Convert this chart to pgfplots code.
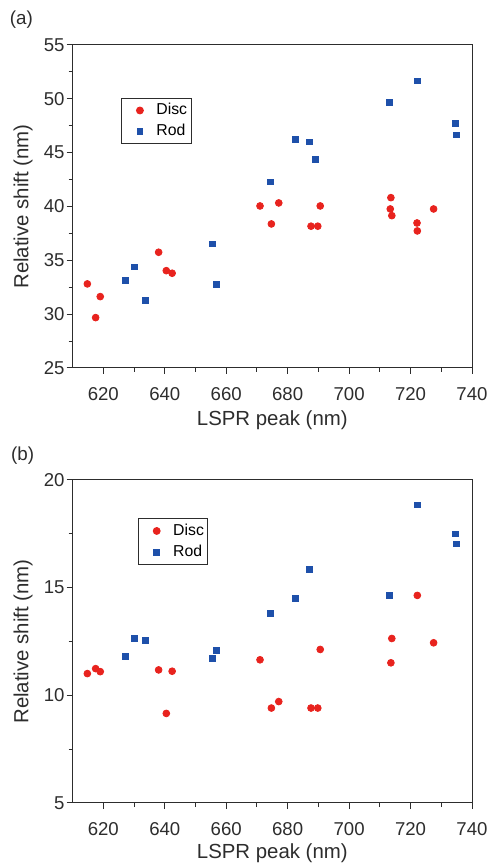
\documentclass[border=0pt]{standalone}
\usepackage{pgfplots}
\pgfplotsset{compat=1.18}
\usepackage{fontspec}
\setmainfont{Liberation Sans}
\definecolor{discred}{RGB}{232,35,30}
\definecolor{rodblue}{RGB}{30,80,170}
\definecolor{axcol}{RGB}{45,45,45}
\begin{document}
\begin{tikzpicture}
\path[use as bounding box] (0,0) rectangle (244.5pt,432.5pt);
\pgfplotsset{
  myax/.style={
    scale only axis, width=199.7pt, height=161.5pt,
    clip mode=individual,
    xmin=610, xmax=740, xtick={620,640,...,740}, minor x tick num=1,
    minor y tick num=1,
    tick align=outside, xtick pos=bottom, ytick pos=left,
    major tick length=3pt, minor tick length=2pt,
    axis line style={draw=axcol, line width=0.5pt},
    every tick/.style={axcol, line width=0.5pt},
    /pgf/number format/assume math mode=true,
    ticklabel style={font=\fontsize{9.3}{11}\selectfont, text=axcol},
    xticklabel style={yshift=-3pt},
    yticklabel style={xshift=2.5pt},
    label style={font=\fontsize{10.2}{12}\selectfont, text=axcol},
    xlabel={LSPR peak (nm)}, ylabel={Relative shift (nm)},
    ylabel style={at={(axis description cs:-0.124,0.5)}, anchor=center},
    legend style={draw=axcol, line width=0.5pt, font=\fontsize{7.9}{9}\selectfont, anchor=north west,
      inner xsep=1pt, inner ysep=1.6pt, row sep=1.8pt, nodes={inner ysep=0.8pt, inner xsep=1pt}},
    legend cell align=left,
    legend image code/.code={\path (-8pt,0pt) (7pt,0pt); \draw[#1] plot coordinates {(0pt,0pt)};},
    anchor=south west,
  },
  discp/.style={only marks, mark=*, mark size=1.7pt, color=discred, mark options={draw=discred, fill=discred}},
  rodp/.style={only marks, mark=square*, mark size=1.45pt, color=rodblue, mark options={draw=rodblue, fill=rodblue}},
}
% ---------- (a) ----------
\begin{axis}[myax, at={(36.3pt,248.5pt)},
  ymin=25, ymax=55, ytick={25,30,...,55},
  xlabel style={at={(axis description cs:0.5,-0.161)}, anchor=center},
  legend style={at={(0.121,0.836)}}]
\addplot[discp] table {
x y
614.8 32.81
617.5 29.68
619.0 31.63
638.0 35.75
640.5 34.04
642.4 33.80
671.0 40.05
674.7 38.38
677.1 40.33
687.6 38.17
689.8 38.17
690.6 40.05
713.6 40.82
713.4 39.77
713.9 39.15
722.1 38.47
722.2 37.73
727.5 39.77
};
\addlegendentry{Disc}
\addplot[rodp] table {
x y
627.2 33.15
630.1 34.39
633.8 31.30
655.5 36.52
656.9 32.78
674.5 42.28
682.6 46.20
687.0 46.00
689.0 44.35
713.0 49.64
722.2 51.66
734.7 47.73
735.0 46.64
};
\addlegendentry{Rod}
\node[font=\fontsize{9.4}{11}\selectfont, text=axcol] at (axis description cs:-0.128,1.077) {(a)};
\end{axis}
% ---------- (b) ----------
\begin{axis}[myax, at={(36.3pt,31pt)},
  ymin=5, ymax=20, ytick={5,10,15,20},
  xlabel style={at={(axis description cs:0.5,-0.155)}, anchor=center},
  legend style={at={(0.163,0.881)}}]
\addplot[discp] table {
x y
614.8 11.01
617.5 11.24
619.0 11.10
638.0 11.18
640.5 9.16
642.4 11.12
671.0 11.65
674.7 9.41
677.1 9.71
687.6 9.41
689.8 9.41
690.6 12.13
713.6 11.51
713.9 12.64
722.2 14.64
727.5 12.44
};
\addlegendentry{Disc}
\addplot[rodp] table {
x y
627.2 11.82
630.1 12.64
633.8 12.56
655.5 11.70
656.9 12.10
674.5 13.79
682.6 14.49
687.0 15.84
713.0 14.63
722.2 18.84
734.7 17.50
735.0 17.03
};
\addlegendentry{Rod}
\node[font=\fontsize{9.4}{11}\selectfont, text=axcol] at (axis description cs:-0.125,1.076) {(b)};
\end{axis}
\end{tikzpicture}
\end{document}
